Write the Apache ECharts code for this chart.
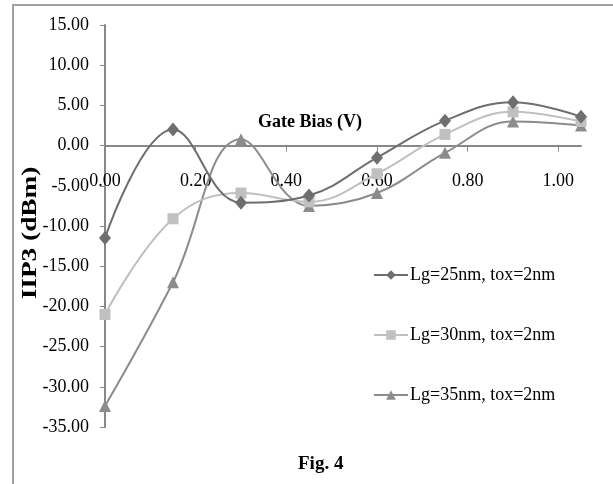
<!DOCTYPE html>
<html>
<head>
<meta charset="utf-8">
<script src="https://cdn.jsdelivr.net/npm/echarts@6/dist/echarts.min.js"></script>
<style>html,body{margin:0;padding:0;background:#fff}#c{width:613px;height:484px}</style>
</head>
<body>
<div id="c"></div>
<script>
var gateBias = [0.00, 0.15, 0.30, 0.45, 0.60, 0.75, 0.90, 1.05];
var lg25 = [-11.5, 2.0, -7.1, -6.2, -1.5, 3.1, 5.4, 3.6];
var lg30 = [-21.0, -9.1, -5.9, -7.0, -3.5, 1.4, 4.2, 3.0];
var lg35 = [-32.4, -17.0, 0.8, -7.5, -5.9, -0.9, 3.0, 2.5];
var seriesNames = ['Lg=25nm, tox=2nm', 'Lg=30nm, tox=2nm', 'Lg=35nm, tox=2nm'];
var xTicks = [0.00, 0.20, 0.40, 0.60, 0.80, 1.00];

var FONT = '"Liberation Serif", serif';
function pairs(ys){ return gateBias.map(function(x,i){ return [x, ys[i]]; }); }

var GRID = {left:105, right:32, top:25, bottom:57};
var Y_MIN = -35, Y_MAX = 15;
var plotH = 484 - GRID.top - GRID.bottom;
var zeroOffset = -plotH * (0 - Y_MIN) / (Y_MAX - Y_MIN);

var chart = echarts.init(document.getElementById('c'));
chart.setOption({
  animation: false,
  backgroundColor: '#fff',
  graphic: [
    {type:'rect', shape:{x:13, y:5, width:640, height:520}, style:{fill:'none', stroke:'#a0a0a0', lineWidth:2}, silent:true},
    {type:'text', top:455, left:298, style:{text:'Fig. 4', font:'bold 19px ' + FONT, fill:'#000'}},
    {type:'text', top:113, left:258, style:{text:'Gate Bias (V)', font:'bold 18px ' + FONT, fill:'#000'}},
    {type:'text', x:31, y:233, rotation:Math.PI/2, scaleX:1.3,
      style:{text:'IIP3 (dBm)', font:'bold 21px ' + FONT, fill:'#000', align:'center', verticalAlign:'middle'}}
  ],
  grid: {left:GRID.left, right:GRID.right, top:GRID.top, bottom:GRID.bottom, containLabel:false, outerBoundsMode:'none'},
  legend: {
    orient:'vertical', left:368, top:261, itemWidth:34, itemHeight:12, itemGap:42,
    textStyle:{fontFamily:FONT, fontSize:18, color:'#000', padding:[0,0,0,-3]},
    data: seriesNames
  },
  xAxis: {
    type:'value', min:0, max:1.05, interval:0.2, position:'bottom', offset:zeroOffset,
    axisLine:{onZero:false, lineStyle:{color:'#888', width:2}},
    axisTick:{show:true, length:6, inside:false, customValues:xTicks, lineStyle:{color:'#888', width:1}},
    axisLabel:{customValues:xTicks, margin:27, fontFamily:FONT, fontSize:18, color:'#000',
      formatter:function(v){ return v.toFixed(2); }},
    splitLine:{show:false}
  },
  yAxis: {
    type:'value', min:Y_MIN, max:Y_MAX, interval:5,
    axisLine:{show:true, lineStyle:{color:'#888', width:2}},
    axisTick:{show:true, length:5, lineStyle:{color:'#888', width:1}},
    axisLabel:{margin:16, fontFamily:FONT, fontSize:18, color:'#000',
      formatter:function(v){ return v.toFixed(2); }},
    splitLine:{show:false}
  },
  series: [
    {name:seriesNames[0], type:'line', smooth:0.4, data:pairs(lg25), symbol:'diamond', symbolSize:[12,14],
      lineStyle:{color:'#6e6e6e', width:2}, itemStyle:{color:'#6e6e6e'}, z:3},
    {name:seriesNames[1], type:'line', smooth:0.4, data:pairs(lg30), symbol:'rect', symbolSize:11,
      lineStyle:{color:'#c0c0c0', width:2}, itemStyle:{color:'#c0c0c0'}, z:2},
    {name:seriesNames[2], type:'line', smooth:0.4, data:pairs(lg35), symbol:'triangle', symbolSize:[12,12],
      lineStyle:{color:'#8c8c8c', width:2}, itemStyle:{color:'#8c8c8c'}, z:1}
  ]
});
</script>
</body>
</html>
